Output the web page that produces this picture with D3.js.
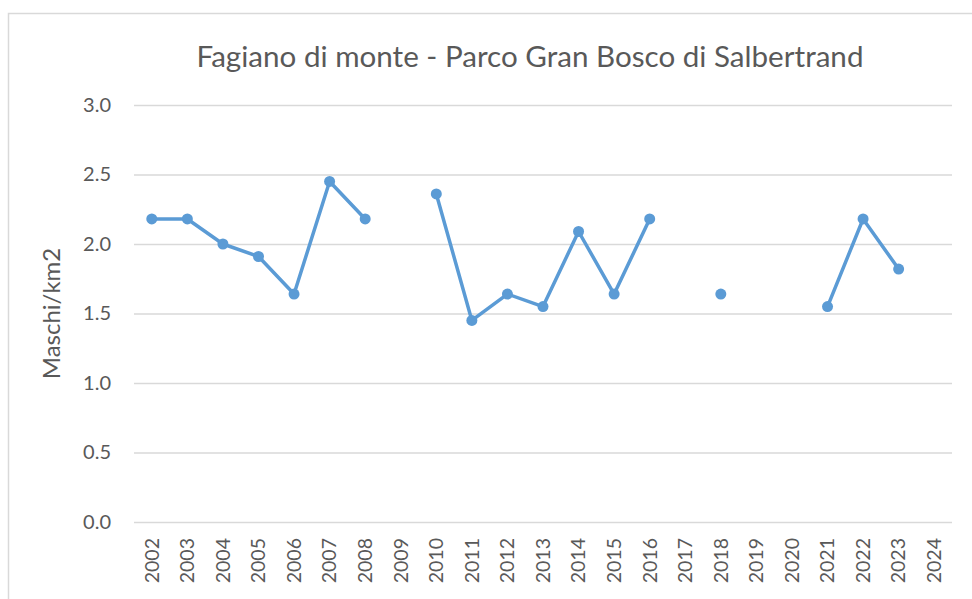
<!DOCTYPE html>
<html lang="it">
<head>
  <meta charset="utf-8">
  <script src="https://d3js.org/d3.v7.min.js"></script>
  <style>
    body { margin: 0; background: #fff; }
    text { font-family: Lato, "Open Sans", sans-serif; fill: #595959; }
  </style>
</head>
<body>
  <div id="chart"></div>
  <script>
    // data (null = no survey)
    const years = ["2002","2003","2004","2005","2006","2007","2008","2009","2010","2011","2012",
                   "2013","2014","2015","2016","2017","2018","2019","2020","2021","2022","2023","2024"];
    const values = [2.18, 2.18, 2.00, 1.91, 1.64, 2.45, 2.18, null, 2.36, 1.45, 1.64,
                    1.55, 2.09, 1.64, 2.18, null, 1.64, null, null, 1.55, 2.18, 1.82, null];
    const yTicks = [0, 0.5, 1, 1.5, 2, 2.5, 3];

    const W = 972, H = 599;
    const margin = {top: 105, right: 20, bottom: 77, left: 134},
        width = 952 - margin.left,
        height = 522 - margin.top;

    const svg = d3.select("#chart")
      .append("svg")
        .attr("width", W)
        .attr("height", H);

    // outer chart border (clipped on right and bottom as in the picture)
    svg.append("rect")
      .attr("x", 8.5)
      .attr("y", 13.5)
      .attr("width", W + 10)
      .attr("height", H + 10)
      .attr("fill", "none")
      .attr("stroke", "#d9d9d9")
      .attr("stroke-width", 1.5);

    const g = svg.append("g")
      .attr("transform", `translate(${margin.left},${margin.top})`);

    const x = d3.scaleBand()
      .domain(years)
      .range([0, width]);

    const y = d3.scaleLinear()
      .domain([0, 3])
      .range([height, 0]);

    // gridlines
    g.append("g")
      .call(d3.axisLeft(y).tickValues(yTicks).tickSize(-width).tickFormat(""))
      .call(a => a.select(".domain").remove())
      .call(a => a.selectAll("line").attr("stroke", "#d9d9d9").attr("stroke-width", 1.3));

    // y tick labels
    g.append("g")
      .call(d3.axisLeft(y).tickValues(yTicks).tickSize(0).tickPadding(23).tickFormat(d3.format(".1f")))
      .call(a => a.select(".domain").remove())
      .call(a => a.selectAll("text")
        .style("font-size", "20px")
        .attr("fill", "#595959"));

    // x tick labels
    g.append("g")
      .attr("transform", `translate(0,${height})`)
      .call(d3.axisBottom(x).tickSize(0).tickPadding(0))
      .call(a => a.select(".domain").remove())
      .call(a => a.selectAll("text")
        .style("font-size", "19.5px")
        .attr("fill", "#595959")
        .attr("transform", "rotate(-90)")
        .attr("x", -16)
        .attr("y", 0)
        .attr("dy", "0.35em")
        .style("text-anchor", "end"));

    // line with gaps
    const line = d3.line()
      .defined(d => d != null)
      .x((d, i) => x(years[i]) + x.bandwidth() / 2)
      .y(d => y(d));

    g.append("path")
      .datum(values)
      .attr("fill", "none")
      .attr("stroke", "#5b9bd5")
      .attr("stroke-width", 3.5)
      .attr("stroke-linejoin", "round")
      .attr("d", line);

    g.selectAll(".dot")
      .data(values.map((v, i) => ({year: years[i], v})).filter(d => d.v != null))
      .join("circle")
        .attr("cx", d => x(d.year) + x.bandwidth() / 2)
        .attr("cy", d => y(d.v))
        .attr("r", 5.5)
        .attr("fill", "#5b9bd5");

    // title
    svg.append("text")
      .attr("x", 530)
      .attr("y", 67)
      .attr("text-anchor", "middle")
      .style("font-size", "29.6px")
      .text("Fagiano di monte - Parco Gran Bosco di Salbertrand");

    // y axis label
    svg.append("text")
      .attr("transform", `translate(60,${margin.top + height / 2}) rotate(-90)`)
      .attr("text-anchor", "middle")
      .style("font-size", "24px")
      .text("Maschi/km2");
  </script>
</body>
</html>
